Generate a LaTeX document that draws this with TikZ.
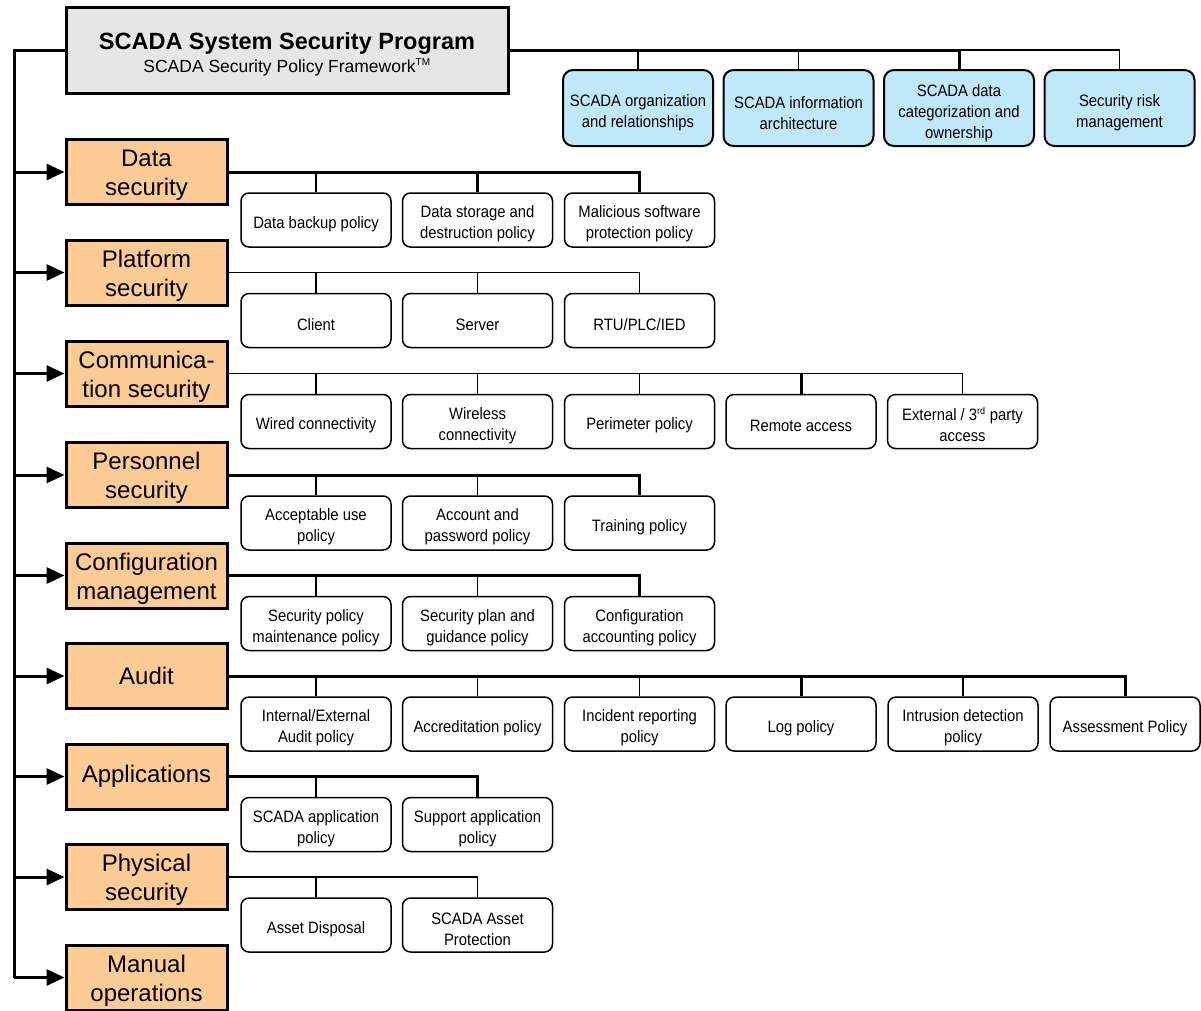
\documentclass[tikz,border=0pt]{standalone}
\usepackage{fontspec}
\setmainfont{Liberation Sans}
\newfontfamily\narrowfont[FakeStretch=0.9]{Liberation Sans}
\usetikzlibrary{arrows.meta}
\definecolor{orangefill}{HTML}{FDCB94}
\definecolor{bluefill}{HTML}{BFE8FA}
\definecolor{grayfill}{HTML}{E6E6E6}
\newcommand{\lst}{\rule{0pt}{20pt}}
\newcommand{\cst}{\rule{0pt}{23.5pt}}
\newcommand{\tst}{\rule{0pt}{21.5pt}}
\begin{document}
\begin{tikzpicture}[x=1pt,y=-1pt,
  titlebox/.style={draw, line width=3pt, fill=grayfill, minimum width=442pt, minimum height=86pt, align=center, inner sep=0pt, font=\fontsize{17.5}{23}\selectfont},
  cat/.style={draw, line width=3pt, fill=orangefill, minimum width=161pt, minimum height=65pt, align=center, inner sep=0pt, font=\fontsize{24}{29}\selectfont},
  topbox/.style={draw, line width=2pt, rounded corners=10pt, fill=bluefill, minimum width=150pt, minimum height=76pt, align=center, inner sep=0pt, font=\narrowfont\fontsize{16.5}{21}\selectfont},
  leaf/.style={draw, line width=1.5pt, rounded corners=8pt, fill=white, minimum width=150pt, minimum height=54pt, align=center, inner sep=0pt, font=\narrowfont\fontsize{16.5}{21}\selectfont},
  spine/.style={line width=3pt},
  busthick/.style={line width=3pt},
  busthin/.style={line width=1.5pt},
  feed/.style={line width=3pt, -{Triangle[length=18pt,width=16pt]}}
]
\useasboundingbox (0,0) rectangle (1201,1010);

% title
\node[titlebox] (title) at (287,50) {\rule{0pt}{25pt}{\fontsize{23.5}{23}\selectfont\bfseries SCADA System Security Program}\\SCADA Security Policy Framework\textsuperscript{\fontsize{10}{10}\selectfont TM}};

% top blue boxes
\node[topbox] (t1) at (638,108) {\tst SCADA organization\\and relationships};
\node[topbox] (t2) at (798.5,108) {\tst SCADA information\\architecture};
\node[topbox] (t3) at (959,108) {\tst SCADA data\\categorization and\\ownership};
\node[topbox] (t4) at (1119.5,108) {\tst Security risk\\management};
\draw[busthick] (title.east) -| (t3.north);
\draw[busthin] (t3.north |- title.east) -| (t4.north);
\draw[busthin] (t1.north |- title.east) -- (t1.north);
\draw[busthin] (t2.north |- title.east) -- (t2.north);

% categories
\node[cat] (c1) at (146.5,172) {\cst Data\\security};
\node[cat] (c2) at (146.5,272.5) {\cst Platform\\security};
\node[cat] (c3) at (146.5,373.5) {\cst Communica-\\tion security};
\node[cat] (c4) at (146.5,475) {\cst Personnel\\security};
\node[cat] (c5) at (146.5,575.5) {\cst Configuration\\management};
\node[cat] (c6) at (146.5,676) {Audit};
\node[cat] (c7) at (146.5,776.5) {Applications};
\node[cat] (c8) at (146.5,877) {\cst Physical\\security};
\node[cat] (c9) at (146.5,977.5) {\cst Manual\\operations};

% spine
\coordinate (lft) at (14,50);
\draw[spine] (title.west) -- (lft) -- (lft |- c9.west);
\foreach \i in {1,...,9} {
  \draw[feed] (lft |- c\i.west) -- (c\i.west);
}

% row 1: data security
\node[leaf] (d1) at (316,220) {\lst Data backup policy};
\node[leaf] (d2) at (477.5,220) {\lst Data storage and\\destruction policy};
\node[leaf] (d3) at (639.5,220) {\lst Malicious software\\protection policy};
\draw[busthick] (c1.east) -| (d3.north);
\draw[busthin] (d1.north |- c1.east) -- (d1.north);
\draw[busthick] (d2.north |- c1.east) -- (d2.north);

% row 2: platform security
\node[leaf] (p1) at (316,320.5) {\lst Client};
\node[leaf] (p2) at (477.5,320.5) {\lst Server};
\node[leaf] (p3) at (639.5,320.5) {\lst RTU/PLC/IED};
\draw[busthin] (c2.east) -| (p3.north);
\draw[busthin] (p1.north |- c2.east) -- (p1.north);
\draw[busthin] (p2.north |- c2.east) -- (p2.north);

% row 3: communication security
\node[leaf] (m1) at (316,421.5) {\lst Wired connectivity};
\node[leaf] (m2) at (477.5,421.5) {\lst Wireless\\connectivity};
\node[leaf] (m3) at (639.5,421.5) {\lst Perimeter policy};
\node[leaf] (m4) at (801,421.5) {\lst Remote access};
\node[leaf] (m5) at (962.5,421.5) {\lst External / 3\textsuperscript{\fontsize{10}{10}\selectfont rd} party\\access};
\draw[busthin] (c3.east) -| (m5.north);
\draw[busthin] (m1.north |- c3.east) -- (m1.north);
\draw[busthin] (m2.north |- c3.east) -- (m2.north);
\draw[busthin] (m3.north |- c3.east) -- (m3.north);
\draw[busthick] (m4.north |- c3.east) -- (m4.north);

% row 4: personnel security
\node[leaf] (s1) at (316,523) {\lst Acceptable use\\policy};
\node[leaf] (s2) at (477.5,523) {\lst Account and\\password policy};
\node[leaf] (s3) at (639.5,523) {\lst Training policy};
\draw[busthick] (c4.east) -| (s3.north);
\draw[busthin] (s1.north |- c4.east) -- (s1.north);
\draw[busthin] (s2.north |- c4.east) -- (s2.north);

% row 5: configuration management
\node[leaf] (g1) at (316,623.5) {\lst Security policy\\maintenance policy};
\node[leaf] (g2) at (477.5,623.5) {\lst Security plan and\\guidance policy};
\node[leaf] (g3) at (639.5,623.5) {\lst Configuration\\accounting policy};
\draw[busthick] (c5.east) -| (g3.north);
\draw[busthin] (g1.north |- c5.east) -- (g1.north);
\draw[busthin] (g2.north |- c5.east) -- (g2.north);

% row 6: audit
\node[leaf] (a1) at (316,724) {\lst Internal/External\\Audit policy};
\node[leaf] (a2) at (477.5,724) {\lst Accreditation policy};
\node[leaf] (a3) at (639.5,724) {\lst Incident reporting\\policy};
\node[leaf] (a4) at (801,724) {\lst Log policy};
\node[leaf] (a5) at (963,724) {\lst Intrusion detection\\policy};
\node[leaf] (a6) at (1125,724) {\lst Assessment Policy};
\draw[busthick] (c6.east) -| (a6.north);
\draw[busthin] (a1.north |- c6.east) -- (a1.north);
\draw[busthin] (a2.north |- c6.east) -- (a2.north);
\draw[busthin] (a3.north |- c6.east) -- (a3.north);
\draw[busthick] (a4.north |- c6.east) -- (a4.north);
\draw[busthin] (a5.north |- c6.east) -- (a5.north);

% row 7: applications
\node[leaf] (x1) at (316,824.5) {\lst SCADA application\\policy};
\node[leaf] (x2) at (477.5,824.5) {\lst Support application\\policy};
\draw[busthick] (c7.east) -| (x2.north);
\draw[busthin] (x1.north |- c7.east) -- (x1.north);

% row 8: physical security
\node[leaf] (y1) at (316,925) {\lst Asset Disposal};
\node[leaf] (y2) at (477.5,925) {\lst SCADA Asset\\Protection};
\draw[busthin] (c8.east) -| (y2.north);
\draw[busthin] (y1.north |- c8.east) -- (y1.north);
\end{tikzpicture}
\end{document}
